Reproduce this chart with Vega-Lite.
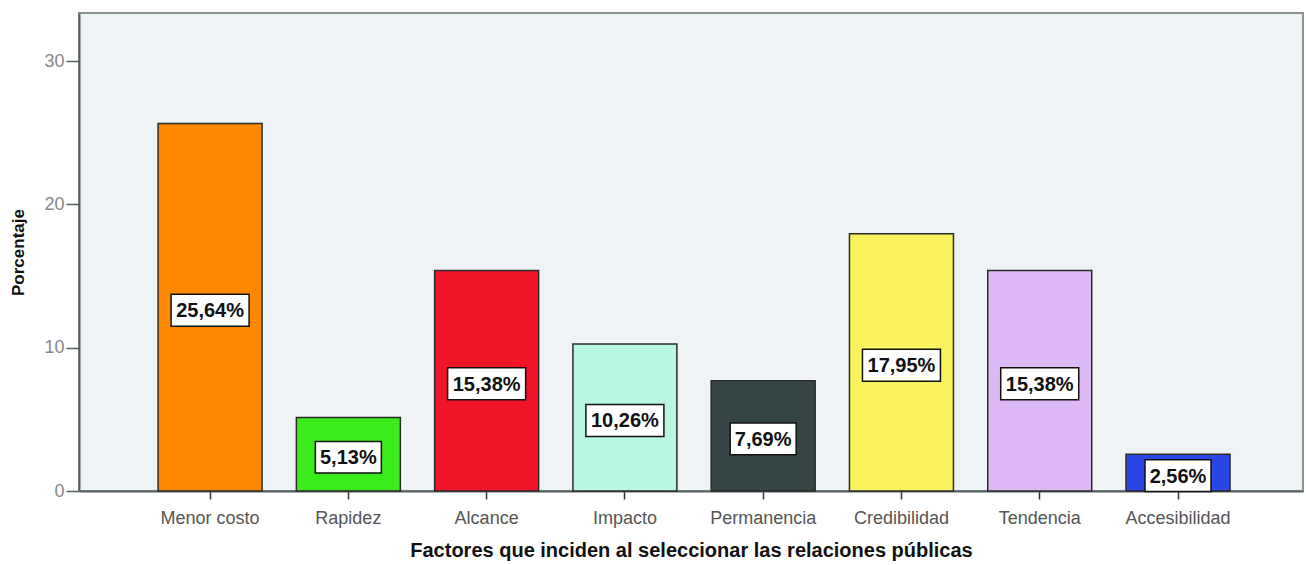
{
  "$schema": "https://vega.github.io/schema/vega-lite/v6.json",
  "width": 1224,
  "height": 478,
  "autosize": {"type": "none"},
  "padding": {"left": 79, "top": 13, "right": 3, "bottom": 74},
  "background": "white",
  "config": {
    "font": "Liberation Sans",
    "view": {"fill": "#eff3f6", "stroke": "#8a9494", "strokeWidth": 2}
  },
  "data": {
    "values": [
      {"factor": "Menor costo", "value": 25.64, "label": "25,64%"},
      {"factor": "Rapidez", "value": 5.13, "label": "5,13%"},
      {"factor": "Alcance", "value": 15.38, "label": "15,38%"},
      {"factor": "Impacto", "value": 10.26, "label": "10,26%"},
      {"factor": "Permanencia", "value": 7.69, "label": "7,69%"},
      {"factor": "Credibilidad", "value": 17.95, "label": "17,95%"},
      {"factor": "Tendencia", "value": 15.38, "label": "15,38%"},
      {"factor": "Accesibilidad", "value": 2.56, "label": "2,56%"}
    ]
  },
  "encoding": {
    "x": {
      "field": "factor",
      "type": "nominal",
      "sort": null,
      "scale": {"paddingInner": 0.248, "paddingOuter": 0.55, "align": 0.52},
      "axis": {
        "title": "Factores que inciden al seleccionar las relaciones públicas",
        "titleFont": "Liberation Sans",
        "titleFontSize": 20,
        "titleFontWeight": "bold",
        "titleColor": "#111",
        "titlePadding": 13,
        "labelAngle": 0,
        "labelFontSize": 18,
        "labelColor": "#555",
        "labelPadding": 10,
        "tickColor": "#333",
        "tickSize": 8,
        "tickWidth": 1.5,
        "domainColor": "#556060",
        "domainWidth": 2
      }
    }
  },
  "layer": [
    {
      "mark": {"type": "bar", "stroke": "#2a2a2a", "strokeWidth": 1.5},
      "encoding": {
        "y": {
          "field": "value",
          "type": "quantitative",
          "scale": {"domain": [0, 33.35], "nice": false},
          "axis": {
            "title": "Porcentaje",
            "titleFontSize": 17,
            "titleFontWeight": "bold",
            "titleColor": "#111",
            "titlePadding": 16,
            "values": [0, 10, 20, 30],
            "grid": false,
            "labelFontSize": 18,
            "labelColor": "#888",
            "labelPadding": 2,
            "tickColor": "#556060",
            "tickSize": 13,
            "tickWidth": 1.5,
            "domainColor": "#556060",
            "domainWidth": 2
          }
        },
        "color": {
          "field": "factor",
          "type": "nominal",
          "sort": null,
          "legend": null,
          "scale": {
            "domain": ["Menor costo", "Rapidez", "Alcance", "Impacto", "Permanencia", "Credibilidad", "Tendencia", "Accesibilidad"],
            "range": ["#ff8800", "#3aec1a", "#ef1428", "#b8f7e0", "#354444", "#fbf35c", "#dcb8f4", "#2a46e6"]
          }
        }
      }
    },
    {
      "layer": [
        {
          "transform": [{"filter": "datum.value >= 10"}],
          "mark": {
            "type": "point",
            "shape": "M-1,-0.41H1V0.41H-1Z",
            "filled": true,
            "fill": "white",
            "opacity": 1,
            "stroke": "#111",
            "strokeWidth": 1.5,
            "size": 6084,
            "yOffset": 3
          },
          "encoding": {
            "y": {
              "field": "value",
              "type": "quantitative",
              "scale": {"domain": [0, 66.7], "nice": false},
              "axis": null
            }
          }
        },
        {
          "transform": [{"filter": "datum.value < 10"}],
          "mark": {
            "type": "point",
            "shape": "M-1,-0.48H1V0.48H-1Z",
            "filled": true,
            "fill": "white",
            "opacity": 1,
            "stroke": "#111",
            "strokeWidth": 1.5,
            "size": 4356,
            "yOffset": 3
          },
          "encoding": {
            "y": {
              "field": "value",
              "type": "quantitative",
              "scale": {"domain": [0, 66.7], "nice": false},
              "axis": null
            }
          }
        },
        {
          "mark": {
            "type": "text",
            "fontSize": 20,
            "fontWeight": "bold",
            "color": "#111",
            "baseline": "middle",
            "align": "center",
            "dy": 4
          },
          "encoding": {
            "y": {
              "field": "value",
              "type": "quantitative",
              "scale": {"domain": [0, 66.7], "nice": false},
              "axis": null
            },
            "text": {"field": "label", "type": "nominal"}
          }
        }
      ]
    }
  ],
  "resolve": {"scale": {"y": "independent"}}
}
